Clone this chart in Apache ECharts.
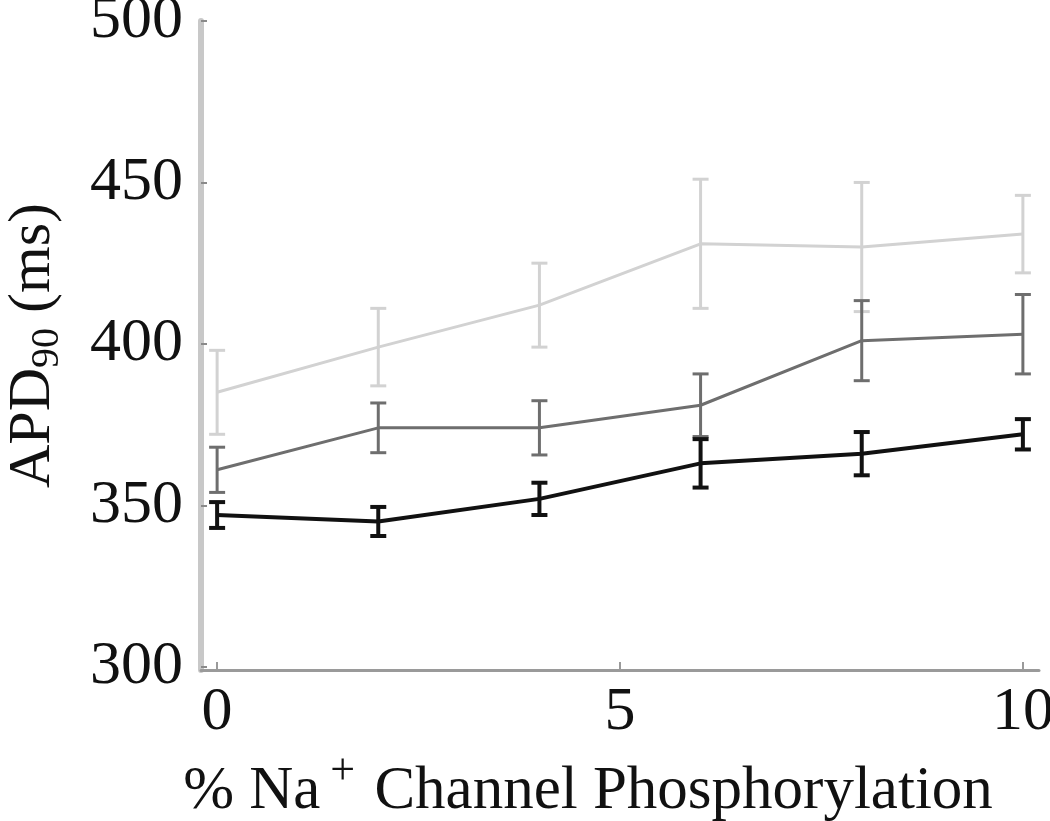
<!DOCTYPE html>
<html>
<head>
<meta charset="utf-8">
<script src="https://cdn.jsdelivr.net/npm/echarts@6/dist/echarts.min.js"></script>
<style>
  html, body { margin: 0; padding: 0; background: #fff; }
  #chart { width: 1050px; height: 821px; }
</style>
</head>
<body>
<div id="chart"></div>
<script>
// % Na+ channel phosphorylation
var xValues = [0, 2, 4, 6, 8, 10];
var xTicks = [0, 5, 10];
var yTicks = [300, 350, 400, 450, 500];

// APD90 (ms), mean and error half-width
var lightMean = [385, 399, 412, 431, 430, 434];
var lightErr = [13, 12, 13, 20, 20, 12];
var midMean = [361, 374, 374, 381, 401, 403];
var midErr = [7, 7.7, 8.4, 9.7, 12.4, 12.3];
var darkMean = [347, 345, 352, 363, 366, 372];
var darkErr = [4, 4.5, 5, 7.5, 6.7, 4.7];

var serif = "Liberation Serif";

function pairs(mean) {
  return xValues.map(function (x, i) { return [x, mean[i]]; });
}
function errData(mean, err) {
  return xValues.map(function (x, i) { return [x, mean[i] - err[i], mean[i] + err[i]]; });
}
function errSeries(mean, err, color, width) {
  return {
    type: "custom",
    data: errData(mean, err),
    z: 3,
    renderItem: function (params, api) {
      var x = api.value(0);
      var lo = api.coord([x, api.value(1)]);
      var hi = api.coord([x, api.value(2)]);
      var cap = 8;
      var style = { stroke: color, lineWidth: width };
      return {
        type: "group",
        children: [
          { type: "line", shape: { x1: lo[0], y1: lo[1], x2: hi[0], y2: hi[1] }, style: style },
          { type: "line", shape: { x1: lo[0] - cap, y1: lo[1], x2: lo[0] + cap, y2: lo[1] }, style: style },
          { type: "line", shape: { x1: hi[0] - cap, y1: hi[1], x2: hi[0] + cap, y2: hi[1] }, style: style }
        ]
      };
    }
  };
}
function lineSeries(mean, color, width) {
  return {
    type: "line",
    data: pairs(mean),
    symbol: "none",
    z: 2,
    lineStyle: { color: color, width: width }
  };
}

var chart = echarts.init(document.getElementById("chart"));
chart.setOption({
  animation: false,
  grid: { left: 201, right: 11, top: 21, bottom: 151, outerBoundsMode: "none", containLabel: false },
  xAxis: {
    type: "value",
    min: -0.2,
    max: 10.2,
    splitLine: { show: false },
    axisLine: { onZero: false, lineStyle: { color: "#9a9a9a", width: 3 } },
    axisTick: { inside: true, length: 8, customValues: xTicks, lineStyle: { color: "#9a9a9a", width: 2 } },
    axisLabel: { customValues: xTicks, margin: 12, fontFamily: serif, fontSize: 62, color: "#111" },
    name: "{a|% Na}{s|+}{a| Channel Phosphorylation}",
    nameLocation: "middle",
    nameGap: 80,
    nameTextStyle: {
      padding: [0, 64, 0, 0],
      rich: {
        a: { fontFamily: serif, fontSize: 61, color: "#111" },
        s: { fontFamily: serif, fontSize: 44, color: "#111", padding: [0, 4, 40, 10] }
      }
    }
  },
  yAxis: {
    type: "value",
    min: 299,
    max: 500,
    splitLine: { show: false },
    axisLine: { onZero: false, lineStyle: { color: "#c8c8c8", width: 6 } },
    axisTick: { inside: true, length: 6, customValues: yTicks, lineStyle: { color: "#8a8a8a", width: 2 } },
    axisLabel: { customValues: yTicks, margin: 18, fontFamily: serif, fontSize: 62, color: "#111" },
    name: "{a|APD}{b|90}{a| (ms)}",
    nameLocation: "middle",
    nameRotate: 90,
    nameGap: 134,
    nameTextStyle: {
      rich: {
        a: { fontFamily: serif, fontSize: 60, color: "#111" },
        b: { fontFamily: serif, fontSize: 40, color: "#111", padding: [28, 0, 0, 0] }
      }
    }
  },
  series: [
    lineSeries(lightMean, "#d2d2d2", 3),
    errSeries(lightMean, lightErr, "#d2d2d2", 3),
    lineSeries(midMean, "#6e6e6e", 3),
    errSeries(midMean, midErr, "#6e6e6e", 3),
    lineSeries(darkMean, "#111111", 4),
    errSeries(darkMean, darkErr, "#111111", 4)
  ]
});
</script>
</body>
</html>
